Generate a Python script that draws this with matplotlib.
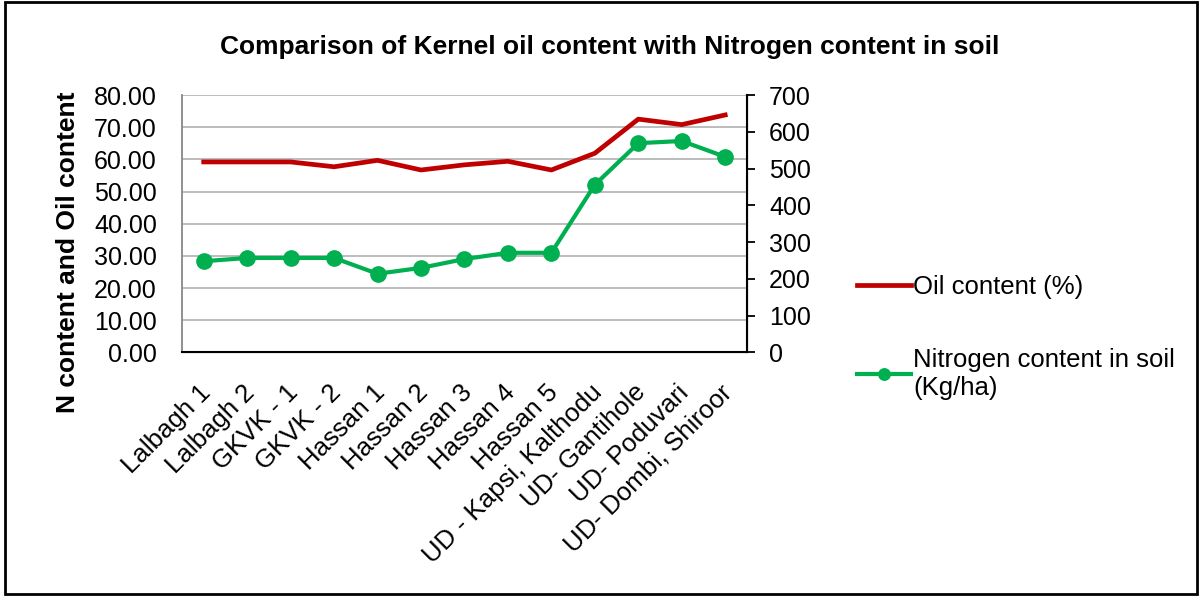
import matplotlib.pyplot as plt
import matplotlib.ticker as mticker
from matplotlib.transforms import ScaledTranslation

plt.rcParams['font.family'] = ['Liberation Sans', 'DejaVu Sans']

sites = ["Lalbagh 1", "Lalbagh 2", "GKVK - 1", "GKVK - 2", "Hassan 1", "Hassan 2",
         "Hassan 3", "Hassan 4", "Hassan 5", "UD - Kapsi, Kalthodu", "UD- Gantihole",
         "UD- Poduvari", "UD- Dombi, Shiroor"]
oil = [59.2, 59.2, 59.2, 57.7, 59.7, 56.7, 58.3, 59.4, 56.7, 61.9, 72.5, 70.8, 73.8]
nitrogen = [248, 257, 257, 257, 214, 230, 254, 271, 271, 456, 569, 575, 532]

red = "#C00000"
green = "#00B050"

fig = plt.figure(figsize=(12.02, 5.96), dpi=100)
ax = fig.add_axes([0.1514, 0.4086, 0.470, 0.432])
ax2 = ax.twinx()

x = range(len(sites))
l1, = ax.plot(x, oil, color=red, lw=3.4, label="Oil content (%)", zorder=3)
l2, = ax2.plot(x, nitrogen, color=green, lw=3, marker="o", ms=11,
               label="Nitrogen content in soil\n(Kg/ha)", zorder=3)

ax.set_ylim(0, 80)
ax.set_yticks(range(0, 81, 10))
ax.yaxis.set_major_formatter(mticker.FormatStrFormatter("%.2f"))
ax2.set_ylim(0, 700)
ax2.set_yticks(range(0, 701, 100))
ax.set_xlim(-0.5, len(sites) - 0.5)
ax.set_xticks(list(x))
ax.set_xticklabels(sites, rotation=45, ha="right", rotation_mode="anchor")
ax.tick_params(axis="x", length=0, labelsize=18.6, pad=20)
ax.tick_params(axis="y", labelsize=18, length=0, pad=18)
ax2.tick_params(axis="y", labelsize=18, length=6, width=1.3, pad=10)
shift = ScaledTranslation(-5 / 100, 0, fig.dpi_scale_trans)
for lbl in ax.get_xticklabels():
    lbl.set_transform(lbl.get_transform() + shift)
ax.grid(axis="y", color="#B0B0B0", lw=1.2)
ax.set_axisbelow(True)

ax.spines["top"].set_visible(False)
ax2.spines["top"].set_visible(False)
ax.spines["left"].set_color("#888888")
ax.spines["left"].set_linewidth(1.3)
ax2.spines["left"].set_visible(False)
ax2.spines["bottom"].set_color("black")
ax2.spines["bottom"].set_linewidth(1.5)
ax2.spines["right"].set_color("black")
ax2.spines["right"].set_linewidth(1.5)

ax.set_ylabel("N content and Oil content", fontsize=19, fontweight="bold")
ax.yaxis.set_label_coords(-0.18, 0.388)
fig.text(0.507, 0.921, "Comparison of Kernel oil content with Nitrogen content in soil",
         ha="center", va="center", fontsize=19, fontweight="bold")

fig.legend(handles=[l1, l2], loc="upper left", bbox_to_anchor=(0.702, 0.56),
           frameon=False, fontsize=18.5, handlelength=2.1, handletextpad=0.1,
           labelspacing=1.9, markerscale=0.75, borderpad=0)

fig.patches.append(plt.Rectangle((0.004, 0.003), 0.992, 0.994, transform=fig.transFigure,
                                 fill=False, edgecolor="black", lw=2))

plt.savefig("out.png", dpi=100)
